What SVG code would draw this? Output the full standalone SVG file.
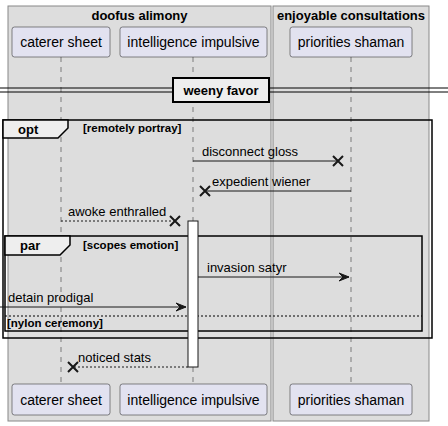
<svg xmlns="http://www.w3.org/2000/svg" width="448" height="426" viewBox="0 0 448 426">
<defs>
<style>
.box{fill:#DDDDDD;stroke:#888888;stroke-width:1}
.bt{font-family:"Liberation Sans",Arial,sans-serif;font-size:13px;font-weight:bold;fill:#000;text-anchor:middle}
.part{fill:#E2E2F0;stroke:#181818;stroke-width:0.5}
.pt{font-family:"Liberation Sans",Arial,sans-serif;font-size:14px;fill:#000;text-anchor:middle}
.life{stroke:#181818;stroke-width:0.5;stroke-dasharray:5,5;fill:none}
.msg{stroke:#181818;stroke-width:1;fill:none}
.dash{stroke-dasharray:2,2}
.mt{font-family:"Liberation Sans",Arial,sans-serif;font-size:13px;fill:#000}
.x{stroke:#181818;stroke-width:2;fill:none}
.frame{fill:none;stroke:#000;stroke-width:1.5}
.tab{fill:#EEEEEE;stroke:#000;stroke-width:1.5}
.ft{font-family:"Liberation Sans",Arial,sans-serif;font-size:13px;font-weight:bold;fill:#000}
.gt{font-family:"Liberation Sans",Arial,sans-serif;font-size:11.5px;font-weight:bold;fill:#000}
.head{fill:#181818;stroke:#181818;stroke-width:1}
</style>
</defs>
<g id="box-doofus">
<rect class="box" x="8" y="6" width="263" height="415"/>
<text class="bt" x="139.5" y="20">doofus alimony</text>
</g>
<g id="box-enjoyable">
<rect class="box" x="273" y="6" width="156" height="415"/>
<text class="bt" x="351" y="20">enjoyable consultations</text>
</g>
<g id="lifelines">
<line class="life" x1="61" y1="57" x2="61" y2="384"/>
<line class="life" x1="193" y1="57" x2="193" y2="384"/>
<line class="life" x1="351" y1="57" x2="351" y2="384"/>
</g>
<g id="divider">
<line x1="0" y1="88" x2="448" y2="88" stroke="#000" stroke-width="1"/>
<line x1="0" y1="92" x2="448" y2="92" stroke="#000" stroke-width="1"/>
<rect x="173" y="78" width="96" height="24" fill="#EEEEEE" stroke="#000" stroke-width="2"/>
<text class="ft" x="221" y="95" text-anchor="middle">weeny favor</text>
</g>
<g id="group-opt">
<rect class="frame" x="3" y="120" width="429" height="218"/>
<path class="tab" d="M3,120 L68,120 L68,128 L58,138 L3,138 Z"/>
<text class="ft" x="18" y="134">opt</text>
<text class="gt" x="83" y="132">[remotely portray]</text>
</g>
<g id="group-par">
<rect class="frame" x="5" y="236" width="417" height="95"/>
<path class="tab" d="M5,236 L70,236 L70,245 L60,255 L5,255 Z"/>
<text class="ft" x="20" y="250">par</text>
<text class="gt" x="83" y="249">[scopes emotion]</text>
<line x1="5" y1="316" x2="422" y2="316" stroke="#000" stroke-width="1" stroke-dasharray="2,2"/>
<text class="gt" x="7" y="327">[nylon ceremony]</text>
</g>
<g id="activation">
<rect x="188" y="221" width="10" height="146" fill="#FFFFFF" stroke="#181818" stroke-width="1"/>
</g>
<g id="connectors">
<line class="msg" x1="193" y1="161" x2="338" y2="161"/>
<path class="x" d="M333,156 L343,166 M343,156 L333,166"/>
<text class="mt" x="202" y="156">disconnect gloss</text>
<line class="msg" x1="351" y1="191" x2="205" y2="191"/>
<path class="x" d="M200,186 L210,196 M210,186 L200,196"/>
<text class="mt" x="212" y="186">expedient wiener</text>
<line class="msg dash" x1="61" y1="221" x2="175" y2="221"/>
<path class="x" d="M170,216 L180,226 M180,216 L170,226"/>
<text class="mt" x="68" y="216">awoke enthralled</text>
<line class="msg" x1="198" y1="277" x2="349" y2="277"/>
<polygon class="head" points="339,273 349,277 339,281 343,277"/>
<text class="mt" x="207" y="272">invasion satyr</text>
<line class="msg" x1="0" y1="307" x2="186" y2="307"/>
<polygon class="head" points="176,303 186,307 176,311 180,307"/>
<text class="mt" x="8" y="302">detain prodigal</text>
<line class="msg dash" x1="188" y1="367" x2="73" y2="367"/>
<path class="x" d="M68,362 L78,372 M78,362 L68,372"/>
<text class="mt" x="78" y="362">noticed stats</text>
</g>
<g id="p-caterer">
<rect class="part" x="12" y="27" width="98" height="30" rx="2.5"/>
<text class="pt" x="61" y="47">caterer sheet</text>
<rect class="part" x="12" y="384" width="98" height="31" rx="2.5"/>
<text class="pt" x="61" y="405">caterer sheet</text>
</g>
<g id="p-intelligence">
<rect class="part" x="120" y="27" width="147" height="30" rx="2.5"/>
<text class="pt" x="193.5" y="47">intelligence impulsive</text>
<rect class="part" x="120" y="384" width="147" height="31" rx="2.5"/>
<text class="pt" x="193.5" y="405">intelligence impulsive</text>
</g>
<g id="p-priorities">
<rect class="part" x="290" y="27" width="122" height="30" rx="2.5"/>
<text class="pt" x="351" y="47">priorities shaman</text>
<rect class="part" x="290" y="384" width="122" height="31" rx="2.5"/>
<text class="pt" x="351" y="405">priorities shaman</text>
</g>
</svg>
